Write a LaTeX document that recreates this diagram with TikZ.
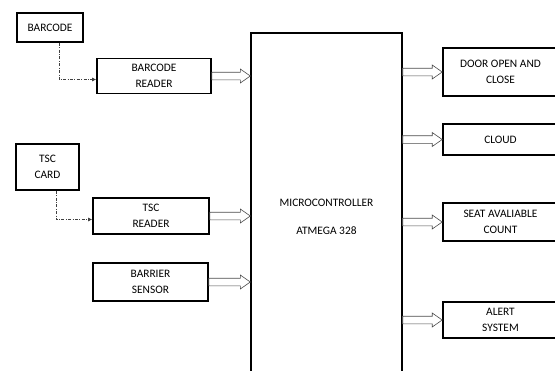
\documentclass[tikz,border=0pt]{standalone}
\usepackage{fontspec}
\setmainfont{Carlito}
\usetikzlibrary{calc,arrows.meta}
\tikzset{
  blk/.style={draw=black, line width=1.6pt, align=center, inner sep=0pt,
    font=\fontsize{11.4}{16}\selectfont, text=black},
  harrow/.style={draw=black!70, line width=0.6pt, fill=white},
  dashlink/.style={draw=black!75, line width=0.7pt, dash pattern=on 3pt off 1.5pt on 0.8pt off 1.5pt,
    -{Latex[length=4pt,width=4pt]}}
}
\newcommand\hollowR[2]{%
  \draw[harrow] let \p1=(#1), \p2=(#2) in
   (\x1,\y1+3.8pt) -- (\x2-10pt,\y1+3.8pt) -- (\x2-10pt,\y1+7pt) -- (\x2,\y1)
   -- (\x2-10pt,\y1-7pt) -- (\x2-10pt,\y1-3.8pt) -- (\x1,\y1-3.8pt) -- cycle;}
\begin{document}
\begin{tikzpicture}[x=1pt,y=-1pt]
\useasboundingbox (0,0) rectangle (555,370);
\clip (0,0) rectangle (555,370);
% left side
\node[blk, minimum width=66, minimum height=29] (bc) at (50,27.5) {BARCODE};
\node[blk, minimum width=114, minimum height=35] (bcr) at (154,76) {BARCODE\\READER};
\node[blk, minimum width=63, minimum height=46] (tc) at (47.5,167) {TSC\\CARD};
\node[blk, minimum width=116, minimum height=36] (tr) at (151,216) {TSC\\READER};
\node[blk, minimum width=115, minimum height=38] (bs) at (150.5,282) {BARRIER\\SENSOR};
% microcontroller
\node[blk, line width=1.4pt, minimum width=151, minimum height=368] (mcu) at (326.5,217)
  {MICROCONTROLLER\\[12pt]ATMEGA 328};
% right side
\node[blk, minimum width=115, minimum height=48] (door) at (500.5,72) {DOOR OPEN AND\\CLOSE};
\node[blk, minimum width=115, minimum height=31] (cloud) at (500.5,139.5) {CLOUD};
\node[blk, minimum width=115, minimum height=38] (seat) at (500.5,222) {SEAT AVALIABLE\\COUNT};
\node[blk, minimum width=115, minimum height=36] (alert) at (500.5,320) {ALERT\\SYSTEM};
% dashed links
\draw[dashlink] ([xshift=9]bc.south) |- ([yshift=-3.5]bcr.west);
\draw[dashlink] ([xshift=8.5]tc.south) |- ([yshift=-3.5]tr.west);
% hollow arrows into MCU
\hollowR{bcr.east}{bcr.east -| mcu.west}
\hollowR{tr.east}{tr.east -| mcu.west}
\hollowR{bs.east}{bs.east -| mcu.west}
% hollow arrows out of MCU
\hollowR{mcu.east |- door.west}{door.west}
\hollowR{mcu.east |- cloud.west}{cloud.west}
\hollowR{mcu.east |- seat.west}{seat.west}
\hollowR{mcu.east |- alert.west}{alert.west}
\end{tikzpicture}
\end{document}
